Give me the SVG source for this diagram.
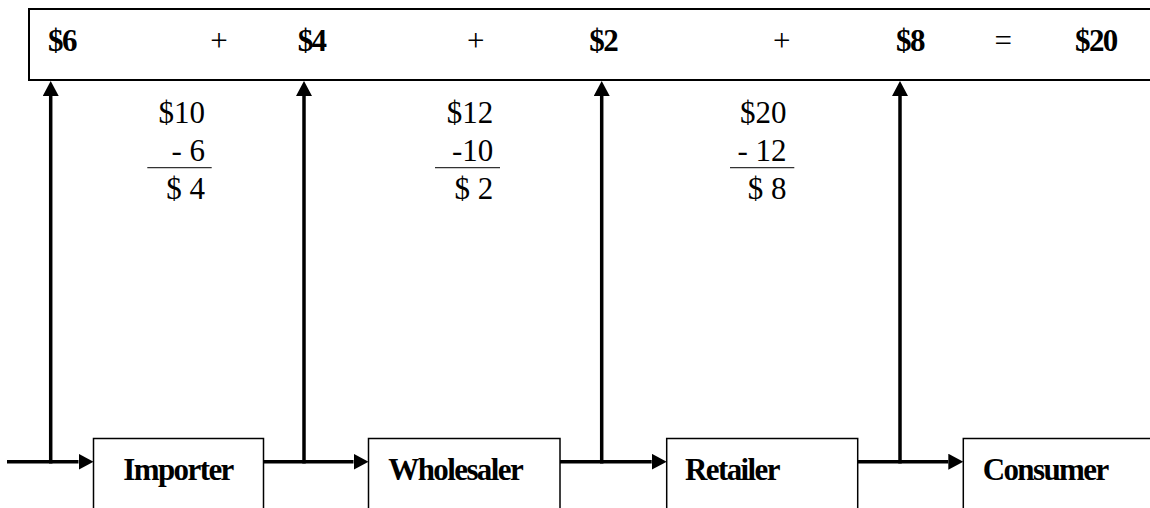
<svg xmlns="http://www.w3.org/2000/svg" width="1150" height="508" viewBox="0 0 1150 508">
<style>
.bar{fill:#fff;stroke:#000;stroke-width:2}
.box{fill:#fff;stroke:#000;stroke-width:1.5}
.b{font-family:"Liberation Serif","Times New Roman",serif;font-weight:bold;font-size:31px;letter-spacing:-1.6px;fill:#000}
.r{font-family:"Liberation Serif","Times New Roman",serif;font-size:31px;fill:#000}
.conn{stroke:#000;stroke-width:3.5;fill:none}
.rule{stroke:#333;stroke-width:1.3}
</style>
<defs>
<marker id="ah" markerUnits="userSpaceOnUse" markerWidth="16" markerHeight="16" refX="0" refY="8" orient="auto" viewBox="0 0 16 16">
<path d="M0,0 L15,8 L0,16 Z" fill="#000"/>
</marker>
</defs>
<g id="sum-bar">
<rect class="bar" x="29" y="9" width="1140" height="71"/>
<text class="b" x="48" y="51">$6</text>
<text class="r" x="219" y="51" text-anchor="middle">+</text>
<text class="b" x="297.7" y="51">$4</text>
<text class="r" x="475.7" y="51" text-anchor="middle">+</text>
<text class="b" x="589.3" y="51">$2</text>
<text class="r" x="781.7" y="51" text-anchor="middle">+</text>
<text class="b" x="896" y="51">$8</text>
<text class="r" x="1003.3" y="51" text-anchor="middle">=</text>
<text class="b" x="1075" y="51">$20</text>
</g>
<g id="calc-importer">
<text class="r" x="205" y="122.7" text-anchor="end">$10</text>
<text class="r" x="205" y="160.5" text-anchor="end" xml:space="preserve">- 6</text>
<line class="rule" x1="147.3" y1="167.7" x2="211.7" y2="167.7"/>
<text class="r" x="205" y="198.5" text-anchor="end" xml:space="preserve">$ 4</text>
</g>
<g id="calc-wholesaler">
<text class="r" x="493.3" y="122.7" text-anchor="end">$12</text>
<text class="r" x="493.3" y="160.5" text-anchor="end">-10</text>
<line class="rule" x1="435" y1="167.7" x2="500" y2="167.7"/>
<text class="r" x="493.3" y="198.5" text-anchor="end" xml:space="preserve">$ 2</text>
</g>
<g id="calc-retailer">
<text class="r" x="786.5" y="122.7" text-anchor="end">$20</text>
<text class="r" x="786.5" y="160.5" text-anchor="end" xml:space="preserve">- 12</text>
<line class="rule" x1="730" y1="167.7" x2="794.3" y2="167.7"/>
<text class="r" x="786.5" y="198.5" text-anchor="end" xml:space="preserve">$ 8</text>
</g>
<g id="importer">
<rect class="box" x="93.5" y="438.5" width="170" height="80"/>
<text class="b" x="123.3" y="480">Importer</text>
</g>
<g id="wholesaler">
<rect class="box" x="368.5" y="438.5" width="191.5" height="80"/>
<text class="b" x="388.3" y="480">Wholesaler</text>
</g>
<g id="retailer">
<rect class="box" x="666.7" y="438.5" width="191" height="80"/>
<text class="b" x="685" y="480">Retailer</text>
</g>
<g id="consumer">
<rect class="box" x="963.3" y="438.5" width="200" height="80"/>
<text class="b" x="982.7" y="480">Consumer</text>
</g>
<g id="connectors">
<line class="conn" x1="7" y1="461.7" x2="78.5" y2="461.7" marker-end="url(#ah)"/>
<line class="conn" x1="263.5" y1="461.7" x2="353.5" y2="461.7" marker-end="url(#ah)"/>
<line class="conn" x1="560" y1="461.7" x2="651.7" y2="461.7" marker-end="url(#ah)"/>
<line class="conn" x1="857.7" y1="461.7" x2="948.3" y2="461.7" marker-end="url(#ah)"/>
<line class="conn" x1="50.7" y1="463.4" x2="50.7" y2="96" marker-end="url(#ah)"/>
<line class="conn" x1="304" y1="463.4" x2="304" y2="96" marker-end="url(#ah)"/>
<line class="conn" x1="601.7" y1="463.4" x2="601.7" y2="96" marker-end="url(#ah)"/>
<line class="conn" x1="900" y1="463.4" x2="900" y2="96" marker-end="url(#ah)"/>
</g>
</svg>
